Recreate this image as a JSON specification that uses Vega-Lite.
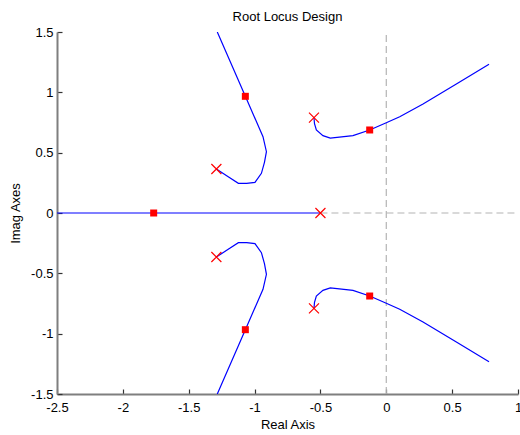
{
  "$schema": "https://vega.github.io/schema/vega-lite/v6.json",
  "width": 461,
  "height": 362,
  "autosize": "none",
  "padding": {"left": 57, "top": 32, "right": 2, "bottom": 41},
  "config": {
    "view": {"stroke": null},
    "font": "Liberation Sans",
    "title": {"fontSize": 13, "fontWeight": "normal", "color": "#000000", "font": "Liberation Sans"},
    "axis": {
      "grid": false,
      "labelFont": "Liberation Sans",
      "labelFontSize": 13,
      "labelColor": "#000000",
      "titleFont": "Liberation Sans",
      "titleFontSize": 13,
      "titleFontWeight": "normal",
      "titleColor": "#000000",
      "domainColor": "#7f7f7f",
      "domainWidth": 2,
      "tickColor": "#333333",
      "tickSize": -5,
      "tickWidth": 1.2
    }
  },
  "title": {"text": "Root Locus Design", "offset": 2},
  "datasets": {
    "guides": [
      {"x": 0, "x2": 0, "y": -1.5, "y2": 1.5},
      {"x": -0.5, "x2": 1, "y": 0, "y2": 0}
    ],
    "locus": [
      {"branch": 1, "ord": 1, "x": -1.29, "y": 0.365},
      {"branch": 1, "ord": 2, "x": -1.2, "y": 0.3},
      {"branch": 1, "ord": 3, "x": -1.123, "y": 0.246},
      {"branch": 1, "ord": 4, "x": -1.06, "y": 0.245},
      {"branch": 1, "ord": 5, "x": -0.997, "y": 0.254},
      {"branch": 1, "ord": 6, "x": -0.948, "y": 0.329},
      {"branch": 1, "ord": 7, "x": -0.925, "y": 0.42},
      {"branch": 1, "ord": 8, "x": -0.91, "y": 0.508},
      {"branch": 1, "ord": 9, "x": -0.936, "y": 0.632},
      {"branch": 1, "ord": 10, "x": -1.07, "y": 0.967},
      {"branch": 1, "ord": 11, "x": -1.283, "y": 1.5},
      {"branch": 2, "ord": 1, "x": -1.29, "y": -0.365},
      {"branch": 2, "ord": 2, "x": -1.2, "y": -0.3},
      {"branch": 2, "ord": 3, "x": -1.123, "y": -0.246},
      {"branch": 2, "ord": 4, "x": -1.06, "y": -0.245},
      {"branch": 2, "ord": 5, "x": -0.997, "y": -0.254},
      {"branch": 2, "ord": 6, "x": -0.948, "y": -0.329},
      {"branch": 2, "ord": 7, "x": -0.925, "y": -0.42},
      {"branch": 2, "ord": 8, "x": -0.91, "y": -0.508},
      {"branch": 2, "ord": 9, "x": -0.936, "y": -0.632},
      {"branch": 2, "ord": 10, "x": -1.07, "y": -0.967},
      {"branch": 2, "ord": 11, "x": -1.283, "y": -1.5},
      {"branch": 3, "ord": 1, "x": -0.549, "y": 0.79},
      {"branch": 3, "ord": 2, "x": -0.545, "y": 0.74},
      {"branch": 3, "ord": 3, "x": -0.531, "y": 0.688},
      {"branch": 3, "ord": 4, "x": -0.481, "y": 0.641},
      {"branch": 3, "ord": 5, "x": -0.425, "y": 0.621},
      {"branch": 3, "ord": 6, "x": -0.253, "y": 0.641},
      {"branch": 3, "ord": 7, "x": -0.126, "y": 0.688},
      {"branch": 3, "ord": 8, "x": 0.0, "y": 0.748},
      {"branch": 3, "ord": 9, "x": 0.102, "y": 0.798},
      {"branch": 3, "ord": 10, "x": 0.279, "y": 0.903},
      {"branch": 3, "ord": 11, "x": 0.532, "y": 1.069},
      {"branch": 3, "ord": 12, "x": 0.78, "y": 1.232},
      {"branch": 4, "ord": 1, "x": -0.549, "y": -0.79},
      {"branch": 4, "ord": 2, "x": -0.545, "y": -0.74},
      {"branch": 4, "ord": 3, "x": -0.531, "y": -0.688},
      {"branch": 4, "ord": 4, "x": -0.481, "y": -0.641},
      {"branch": 4, "ord": 5, "x": -0.425, "y": -0.621},
      {"branch": 4, "ord": 6, "x": -0.253, "y": -0.641},
      {"branch": 4, "ord": 7, "x": -0.126, "y": -0.688},
      {"branch": 4, "ord": 8, "x": 0.0, "y": -0.748},
      {"branch": 4, "ord": 9, "x": 0.102, "y": -0.798},
      {"branch": 4, "ord": 10, "x": 0.279, "y": -0.903},
      {"branch": 4, "ord": 11, "x": 0.532, "y": -1.069},
      {"branch": 4, "ord": 12, "x": 0.78, "y": -1.232},
      {"branch": 5, "ord": 1, "x": -0.5, "y": 0},
      {"branch": 5, "ord": 2, "x": -2.5, "y": 0}
    ],
    "poles": [
      {"x": -0.5, "y": 0},
      {"x": -1.29, "y": 0.365},
      {"x": -1.29, "y": -0.365},
      {"x": -0.549, "y": 0.79},
      {"x": -0.549, "y": -0.79}
    ],
    "clpoles": [
      {"x": -1.766, "y": 0},
      {"x": -1.07, "y": 0.967},
      {"x": -1.07, "y": -0.967},
      {"x": -0.126, "y": 0.688},
      {"x": -0.126, "y": -0.688}
    ]
  },
  "layer": [
    {
      "data": {"name": "guides"},
      "mark": {"type": "rule", "color": "#b4b4b4", "strokeDash": [7, 4], "strokeWidth": 1.2},
      "encoding": {
        "x": {
          "field": "x", "type": "quantitative",
          "scale": {"domain": [-2.5, 1], "nice": false, "zero": false},
          "axis": {"values": [-2.5, -2, -1.5, -1, -0.5, 0, 0.5, 1], "title": "Real Axis", "labelExpr": "'' + datum.value", "labelPadding": 12, "titlePadding": 4, "labelFlush": false}
        },
        "x2": {"field": "x2"},
        "y": {
          "field": "y", "type": "quantitative",
          "scale": {"domain": [-1.5, 1.5], "nice": false, "zero": false},
          "axis": {"values": [-1.5, -1, -0.5, 0, 0.5, 1, 1.5], "title": "Imag Axes", "labelExpr": "'' + datum.value", "labelPadding": 9, "titlePadding": 8, "labelFlush": false}
        },
        "y2": {"field": "y2"}
      }
    },
    {
      "data": {"name": "locus"},
      "mark": {"type": "line", "color": "#0000ff", "strokeWidth": 1.2, "clip": true},
      "encoding": {
        "x": {"field": "x", "type": "quantitative"},
        "y": {"field": "y", "type": "quantitative"},
        "detail": {"field": "branch"},
        "order": {"field": "ord", "type": "quantitative"}
      }
    },
    {
      "data": {"name": "poles"},
      "mark": {"type": "point", "shape": "M-1,-1L1,1M-1,1L1,-1", "filled": false, "color": "#ff0000", "size": 100, "strokeWidth": 1.2, "opacity": 1},
      "encoding": {
        "x": {"field": "x", "type": "quantitative"},
        "y": {"field": "y", "type": "quantitative"}
      }
    },
    {
      "data": {"name": "clpoles"},
      "mark": {"type": "point", "shape": "square", "filled": true, "color": "#ff0000", "size": 49, "opacity": 1},
      "encoding": {
        "x": {"field": "x", "type": "quantitative"},
        "y": {"field": "y", "type": "quantitative"}
      }
    }
  ]
}
